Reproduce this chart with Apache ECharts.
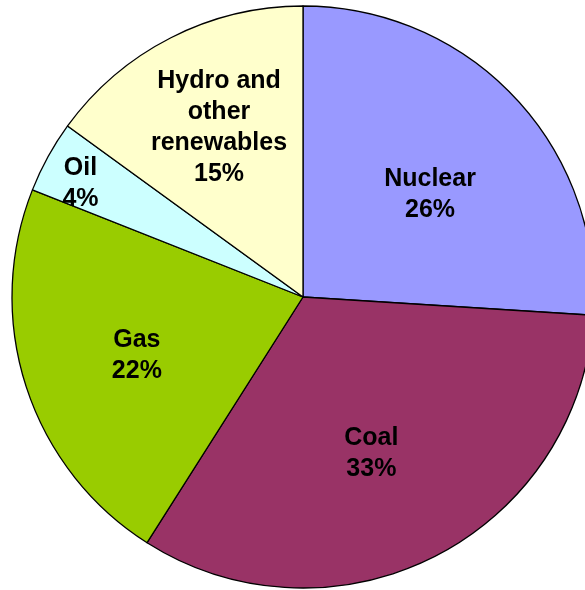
<!DOCTYPE html>
<html>
<head>
<meta charset="utf-8">
<script src="https://cdn.jsdelivr.net/npm/echarts@6/dist/echarts.min.js"></script>
<style>
  html, body { margin: 0; padding: 0; background: #ffffff; }
  #chart { width: 585px; height: 590px; }
</style>
</head>
<body>
<div id="chart"></div>
<script>
// Electricity generation by source (share, %)
const categories = ['Nuclear', 'Coal', 'Gas', 'Oil', 'Hydro and\nother\nrenewables'];
const shares = [26, 33, 22, 4, 15];
const sliceColors = ['#9999FF', '#993366', '#99CC00', '#CCFFFF', '#FFFFCC'];

// Label anchors: [angle clockwise from 12 o'clock in degrees, fraction of radius]
const labelAnchors = [[50.7, 0.564], [156.1, 0.58], [251.2, 0.603], [297.5, 0.862], [333.9, 0.656]];

const CX = 303, CY = 297, R = 291;

const chart = echarts.init(document.getElementById('chart'), null, { renderer: 'canvas' });

chart.setOption({
  animation: false,
  backgroundColor: '#ffffff',
  series: [{
    type: 'pie',
    center: [CX, CY],
    radius: [0, R],
    startAngle: 90,
    clockwise: true,
    avoidLabelOverlap: false,
    data: categories.map((name, i) => ({
      name: name,
      value: shares[i],
      itemStyle: { color: sliceColors[i] }
    })),
    itemStyle: { borderColor: '#000000', borderWidth: 1.3 },
    emphasis: { disabled: true },
    label: {
      show: true,
      position: 'inside',
      formatter: p => p.name + '\n' + p.value + '%',
      color: '#000000',
      fontFamily: 'Liberation Sans, Arial, sans-serif',
      fontWeight: 'bold',
      fontSize: 25,
      lineHeight: 31,
      align: 'center'
    },
    labelLine: { show: false },
    labelLayout: function (params) {
      const a = labelAnchors[params.dataIndex];
      const rad = a[0] * Math.PI / 180;
      return {
        x: CX + Math.sin(rad) * R * a[1],
        y: CY - Math.cos(rad) * R * a[1] + 2,
        align: 'center',
        verticalAlign: 'middle'
      };
    }
  }]
});
</script>
</body>
</html>
